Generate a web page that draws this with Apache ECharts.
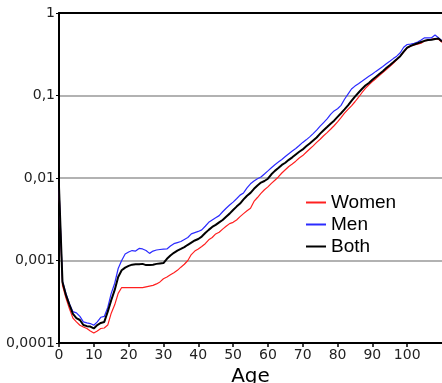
<!DOCTYPE html>
<html>
<head>
<meta charset="utf-8" />
<title>Mortality by age</title>
<script src="https://cdn.jsdelivr.net/npm/echarts@6/dist/echarts.min.js"></script>
<style>
  html, body { margin: 0; padding: 0; background: #fff; }
  #main { width: 442px; height: 383px; }
</style>
</head>
<body>
<div id="main"></div>
<script type="text/javascript">
// ages 0..110
var ages = [];
for (var a = 0; a <= 110; a++) ages.push(a);

var women = [
  0.0074, 0.0005, 0.00035, 0.00026, 0.0002, 0.00018, 0.000164, 0.000156, 0.00015, 0.00014,
  0.000132, 0.00014, 0.00015, 0.000152, 0.000165, 0.00023, 0.00029, 0.0004, 0.00047, 0.00047,
  0.00047, 0.00047, 0.00047, 0.00047, 0.00047, 0.00048, 0.00049, 0.0005, 0.00052, 0.00055,
  0.0006, 0.00063, 0.00067, 0.00071, 0.00076, 0.00083, 0.0009, 0.001, 0.00118, 0.0013,
  0.00138, 0.00148, 0.0016, 0.00178, 0.0019, 0.0021, 0.0022, 0.0024, 0.0026, 0.0028,
  0.0029, 0.0031, 0.0034, 0.0037, 0.004, 0.0043, 0.0052, 0.0058, 0.0065, 0.0072,
  0.0078, 0.0086, 0.0094, 0.0103, 0.0115, 0.0126, 0.0138, 0.0148, 0.016, 0.0175,
  0.0187, 0.0205, 0.0225, 0.0245, 0.027, 0.0295, 0.0325, 0.0355, 0.039, 0.043,
  0.048, 0.054, 0.061, 0.068, 0.075, 0.084, 0.095, 0.108, 0.122, 0.135,
  0.148, 0.16, 0.175, 0.19, 0.207, 0.225, 0.245, 0.27, 0.3, 0.335,
  0.375, 0.395, 0.41, 0.42, 0.43, 0.46, 0.47, 0.48, 0.49, 0.48, 0.44
];

var men = [
  0.0076, 0.00056, 0.0004, 0.0003, 0.00024, 0.000232, 0.00021, 0.00018, 0.000175, 0.000172,
  0.000164, 0.00018, 0.000205, 0.00021, 0.00027, 0.0004, 0.00053, 0.0008, 0.001, 0.0012,
  0.00127, 0.00132, 0.0013, 0.0014, 0.00138, 0.00132, 0.00122, 0.0013, 0.00134, 0.00136,
  0.00137, 0.00138, 0.0015, 0.0016, 0.00165, 0.0017, 0.0018, 0.0019, 0.0021, 0.00218,
  0.00225, 0.00235, 0.0026, 0.0029, 0.0031, 0.0033, 0.0035, 0.0039, 0.0043, 0.0047,
  0.0051, 0.0056, 0.0062, 0.0066, 0.0076, 0.0085, 0.0092, 0.0098, 0.0103, 0.0112,
  0.0122, 0.0133, 0.0145, 0.0156, 0.0168, 0.0182, 0.0197, 0.0212, 0.0228, 0.0248,
  0.027, 0.029, 0.0315, 0.0345, 0.038, 0.0425, 0.047, 0.052, 0.059, 0.065,
  0.069, 0.076, 0.09, 0.104, 0.12, 0.13, 0.139, 0.149, 0.16, 0.171,
  0.182, 0.196, 0.21, 0.225, 0.242, 0.26, 0.28, 0.3, 0.33, 0.385,
  0.415, 0.42, 0.43, 0.445, 0.47, 0.5, 0.5, 0.5, 0.54, 0.5, 0.46
];

var both = [
  0.0078, 0.00055, 0.00038, 0.00029, 0.000225, 0.0002, 0.00019, 0.000165, 0.00016, 0.000158,
  0.00015, 0.000165, 0.000175, 0.00018, 0.00024, 0.00033, 0.00044, 0.00063, 0.00076, 0.00082,
  0.00086, 0.00089, 0.0009, 0.0009, 0.00091, 0.00088, 0.00088, 0.00089, 0.00091, 0.00092,
  0.00093, 0.00105, 0.00115, 0.00124, 0.00132, 0.00138, 0.00145, 0.00155, 0.00165, 0.00175,
  0.00182, 0.00195, 0.00215, 0.00235, 0.00255, 0.0027, 0.0029, 0.0031, 0.0034, 0.0037,
  0.0041, 0.0045, 0.0049, 0.0055, 0.0061, 0.0066, 0.0074, 0.0081, 0.0088, 0.0092,
  0.0098, 0.0111, 0.0122, 0.0132, 0.0144, 0.0153, 0.0166, 0.0178, 0.0193, 0.0208,
  0.0222, 0.0242, 0.0262, 0.0285, 0.031, 0.0345, 0.038, 0.0415, 0.0455, 0.0495,
  0.055, 0.061, 0.068, 0.076, 0.086, 0.097, 0.108, 0.12, 0.132, 0.142,
  0.155, 0.168, 0.182, 0.197, 0.215, 0.233, 0.253, 0.275, 0.3, 0.34,
  0.38, 0.4, 0.415, 0.43, 0.445, 0.46, 0.47, 0.475, 0.485, 0.49, 0.45
];

var yTicks = [0.0001, 0.001, 0.01, 0.1, 1];

function pairs(vals) {
  return ages.map(function (x, i) { return [x, vals[i]]; });
}

var labelFont = { fontFamily: 'DejaVu Sans', fontSize: 14, color: '#222' };

var option = {
  animation: false,
  backgroundColor: '#fff',
  grid: { left: 59, right: 0, top: 13, bottom: 40, outerBoundsMode: 'none', containLabel: false },
  legend: {
    orient: 'vertical',
    left: 301,
    top: 188,
    itemGap: 3,
    itemWidth: 20,
    itemHeight: 2,
    icon: 'rect',
    textStyle: { fontFamily: 'Liberation Sans', fontSize: 19, color: '#000' },
    data: ['Women', 'Men', 'Both']
  },
  xAxis: [{
    type: 'value',
    min: 0,
    max: 110,
    interval: 10,
    name: 'Age',
    nameLocation: 'middle',
    nameGap: 19,
    nameTextStyle: { fontFamily: 'DejaVu Sans', fontSize: 20, color: '#000' },
    axisLine: { lineStyle: { color: '#000', width: 2 } },
    axisTick: { show: true, length: 4, lineStyle: { color: '#000', width: 1.5 } },
    axisLabel: Object.assign({ margin: 5, showMaxLabel: false }, labelFont),
    splitLine: { show: false }
  }, {
    type: 'value',
    position: 'top',
    min: 0,
    max: 110,
    axisLine: { show: true, lineStyle: { color: '#000', width: 2 } },
    axisTick: { show: false },
    axisLabel: { show: false },
    splitLine: { show: false }
  }],
  yAxis: {
    type: 'log',
    logBase: 10,
    min: 0.0001,
    max: 1,
    axisLine: { show: true, lineStyle: { color: '#000', width: 2 } },
    axisTick: { show: true, length: 3, lineStyle: { color: '#000' } },
    axisLabel: Object.assign({
      margin: 4,
      formatter: function (v) {
        var s = yTicks.filter(function (t) { return Math.abs(t - v) / t < 1e-6; })[0];
        return s === undefined ? '' : String(s).replace('.', ',');
      }
    }, labelFont),
    splitLine: { show: true, lineStyle: { color: '#999', width: 1.5 } }
  },
  series: [
    {
      name: 'Women', type: 'line', data: pairs(women), showSymbol: false,
      color: '#ff2020', lineStyle: { width: 1.2 }
    },
    {
      name: 'Men', type: 'line', data: pairs(men), showSymbol: false,
      color: '#2b2bff', lineStyle: { width: 1.2 }
    },
    {
      name: 'Both', type: 'line', data: pairs(both), showSymbol: false,
      color: '#000', lineStyle: { width: 2 }
    }
  ]
};

var myChart = echarts.init(document.getElementById('main'));
myChart.setOption(option);
</script>
</body>
</html>
